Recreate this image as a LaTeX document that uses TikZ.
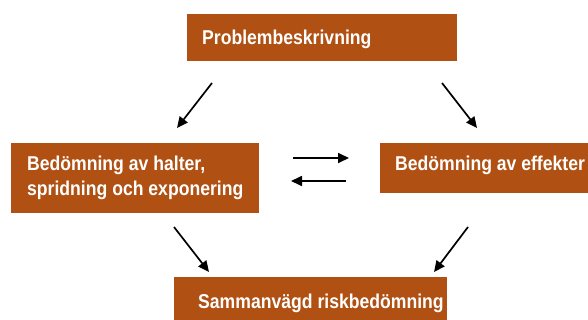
\documentclass[tikz,border=0pt]{standalone}
\usepackage{fontspec}
\setmainfont[FakeStretch=0.88]{Liberation Sans}
\usetikzlibrary{arrows.meta}
\definecolor{boxbrown}{RGB}{176,80,18}
\tikzset{
  box/.style={fill=boxbrown, draw=none, anchor=north west, inner sep=0pt},
  lbl/.style={anchor=base west, text=white, inner sep=0pt,
    font=\fontsize{20}{25}\selectfont\bfseries, align=left},
  arr/.style={line width=1.7pt, -{Triangle[length=11pt,width=10pt]}}
}
\begin{document}
\begin{tikzpicture}[x=1pt,y=-1pt]
\useasboundingbox (0,0) rectangle (588,320);
\clip (0,0) rectangle (588,320);
\node[box, minimum width=270pt, minimum height=47pt] (p) at (187,14) {};
\node[box, minimum width=248pt, minimum height=70pt] (h) at (11,143) {};
\node[box, minimum width=230pt, minimum height=50pt] (e) at (380,143) {};
\node[box, minimum width=273pt, minimum height=47pt] (s) at (174,277) {};
\node[lbl] (pt) at (202,45) {Problembeskrivning};
\node[lbl] (ht1) at (27,171) {Bedömning av halter,};
\node[lbl] (ht2) at (27,196) {spridning och exponering};
\node[lbl] (et) at (395,171) {Bedömning av effekter};
\node[lbl] (st) at (198,308) {Sammanvägd riskbedömning};
\coordinate (a1s) at (212,83); \coordinate (a1e) at (177,128);
\coordinate (a2s) at (442,83); \coordinate (a2e) at (477,128);
\coordinate (a3s) at (293,158); \coordinate (a3e) at (349,158);
\coordinate (a4s) at (346,181); \coordinate (a4e) at (291,181);
\coordinate (a5s) at (174,227); \coordinate (a5e) at (209,272);
\coordinate (a6s) at (468,227); \coordinate (a6e) at (434,272);
\draw[arr] (a1s) -- (a1e);
\draw[arr] (a2s) -- (a2e);
\draw[arr] (a3s) -- (a3e);
\draw[arr] (a4s) -- (a4e);
\draw[arr] (a5s) -- (a5e);
\draw[arr] (a6s) -- (a6e);
\end{tikzpicture}
\end{document}
